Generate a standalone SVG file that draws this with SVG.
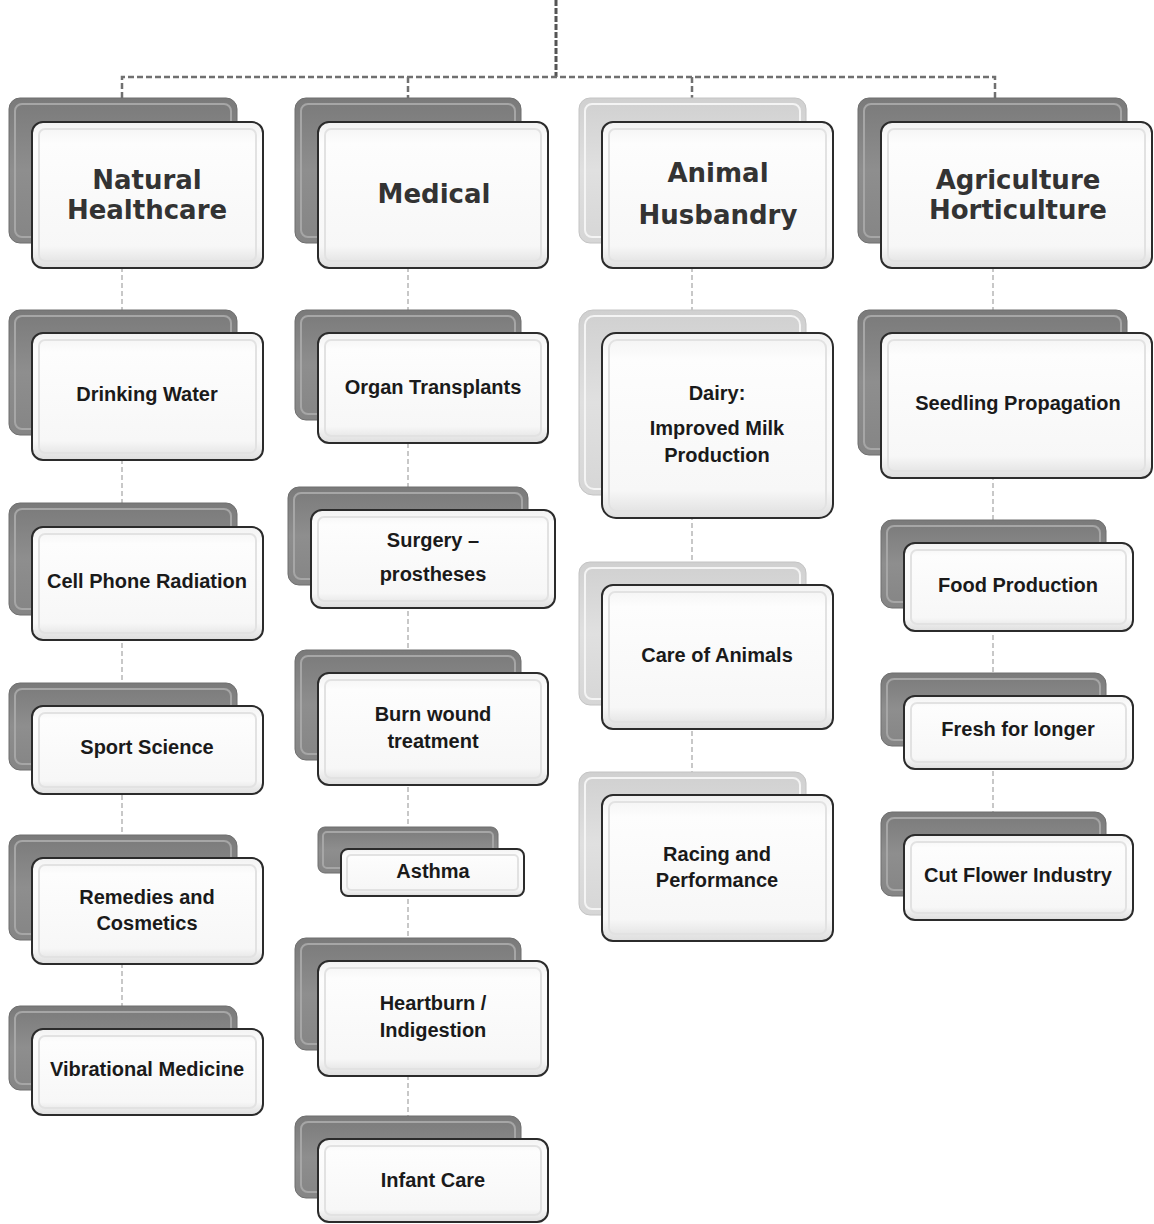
<svg xmlns="http://www.w3.org/2000/svg" width="1154" height="1224" viewBox="0 0 1154 1224">
<defs>
<linearGradient id="gBack" x1="0" y1="0" x2="0" y2="1">
<stop offset="0" stop-color="#7a7a7a"/>
<stop offset="0.5" stop-color="#8e8e8e"/>
<stop offset="1" stop-color="#858585"/>
</linearGradient>
<linearGradient id="gBackL" x1="0" y1="0" x2="0" y2="1">
<stop offset="0" stop-color="#d0d0d0"/>
<stop offset="0.5" stop-color="#e0e0e0"/>
<stop offset="1" stop-color="#d6d6d6"/>
</linearGradient>
<linearGradient id="gFront" x1="0" y1="0" x2="0" y2="1">
<stop offset="0" stop-color="#f2f2f2"/>
<stop offset="0.15" stop-color="#fdfdfd"/>
<stop offset="0.85" stop-color="#f7f7f7"/>
<stop offset="1" stop-color="#dedede"/>
</linearGradient>
<style>
.back{fill:url(#gBack);stroke:#6e6e6e;stroke-width:1}
.backL{fill:url(#gBackL);stroke:#c4c4c4;stroke-width:1}
.bin{fill:none;stroke:#a6a6a6;stroke-width:2}
.binL{fill:none;stroke:#f4f4f4;stroke-width:2}
.front{fill:url(#gFront);stroke:#2b2b2b;stroke-width:2}
.fin{fill:none;stroke:#e2e2e2;stroke-width:2}
.hd{font-family:"DejaVu Sans",Verdana,sans-serif;font-weight:bold;font-size:26px;fill:#333;text-anchor:middle}
.tx{font-family:"Liberation Sans",Arial,sans-serif;font-weight:bold;font-size:20px;fill:#1a1a1a;text-anchor:middle}
.stem{fill:none;stroke:#555;stroke-width:3;stroke-dasharray:6 2}
.main{fill:none;stroke:#707070;stroke-width:2.5;stroke-dasharray:6 3}
.col{fill:none;stroke:#c8c8c8;stroke-width:2;stroke-dasharray:5 3}
</style>
</defs>
<rect width="1154" height="1224" fill="#ffffff"/>
<g id="connectors">
<path class="stem" d="M556 0V77"/>
<path class="main" d="M122 98V77H995V98"/>
<path class="main" d="M408 77V98M692 77V98"/>
<path class="col" d="M122 243V1029"/>
<path class="col" d="M408 243V1139"/>
<path class="col" d="M692 243V795"/>
<path class="col" d="M993 243V835"/>
</g>
<g id="n-natural">
<rect class="back" x="9" y="98" width="228" height="145" rx="11"/><rect class="bin" x="15" y="104" width="216" height="133" rx="7"/>
<rect class="front" x="32" y="122" width="231" height="146" rx="11"/><rect class="fin" x="39" y="129" width="217" height="132" rx="6"/>
<text class="hd" x="147" y="189">Natural</text><text class="hd" x="147" y="219">Healthcare</text>
</g>
<g id="n-drinking">
<rect class="back" x="9" y="310" width="228" height="125" rx="11"/><rect class="bin" x="15" y="316" width="216" height="113" rx="7"/>
<rect class="front" x="32" y="333" width="231" height="127" rx="11"/><rect class="fin" x="39" y="340" width="217" height="113" rx="6"/>
<text class="tx" x="147" y="401">Drinking Water</text>
</g>
<g id="n-cell">
<rect class="back" x="9" y="503" width="228" height="112" rx="11"/><rect class="bin" x="15" y="509" width="216" height="100" rx="7"/>
<rect class="front" x="32" y="527" width="231" height="113" rx="11"/><rect class="fin" x="39" y="534" width="217" height="99" rx="6"/>
<text class="tx" x="147" y="588">Cell Phone Radiation</text>
</g>
<g id="n-sport">
<rect class="back" x="9" y="683" width="228" height="87" rx="11"/><rect class="bin" x="15" y="689" width="216" height="75" rx="7"/>
<rect class="front" x="32" y="706" width="231" height="88" rx="11"/><rect class="fin" x="39" y="713" width="217" height="74" rx="6"/>
<text class="tx" x="147" y="754">Sport Science</text>
</g>
<g id="n-remedies">
<rect class="back" x="9" y="835" width="228" height="105" rx="11"/><rect class="bin" x="15" y="841" width="216" height="93" rx="7"/>
<rect class="front" x="32" y="858" width="231" height="106" rx="11"/><rect class="fin" x="39" y="865" width="217" height="92" rx="6"/>
<text class="tx" x="147" y="904">Remedies and</text><text class="tx" x="147" y="930">Cosmetics</text>
</g>
<g id="n-vibrational">
<rect class="back" x="9" y="1006" width="228" height="84" rx="11"/><rect class="bin" x="15" y="1012" width="216" height="72" rx="7"/>
<rect class="front" x="32" y="1029" width="231" height="86" rx="11"/><rect class="fin" x="39" y="1036" width="217" height="72" rx="6"/>
<text class="tx" x="147" y="1076">Vibrational Medicine</text>
</g>
<g id="n-medical">
<rect class="back" x="295" y="98" width="226" height="145" rx="11"/><rect class="bin" x="301" y="104" width="214" height="133" rx="7"/>
<rect class="front" x="318" y="122" width="230" height="146" rx="11"/><rect class="fin" x="325" y="129" width="216" height="132" rx="6"/>
<text class="hd" x="434" y="203">Medical</text>
</g>
<g id="n-organ">
<rect class="back" x="295" y="310" width="226" height="110" rx="11"/><rect class="bin" x="301" y="316" width="214" height="98" rx="7"/>
<rect class="front" x="318" y="333" width="230" height="110" rx="11"/><rect class="fin" x="325" y="340" width="216" height="96" rx="6"/>
<text class="tx" x="433" y="394">Organ Transplants</text>
</g>
<g id="n-surgery">
<rect class="back" x="288" y="487" width="240" height="98" rx="11"/><rect class="bin" x="294" y="493" width="228" height="86" rx="7"/>
<rect class="front" x="311" y="510" width="244" height="98" rx="11"/><rect class="fin" x="318" y="517" width="230" height="84" rx="6"/>
<text class="tx" x="433" y="547">Surgery –</text><text class="tx" x="433" y="581">prostheses</text>
</g>
<g id="n-burn">
<rect class="back" x="295" y="650" width="226" height="110" rx="11"/><rect class="bin" x="301" y="656" width="214" height="98" rx="7"/>
<rect class="front" x="318" y="673" width="230" height="112" rx="11"/><rect class="fin" x="325" y="680" width="216" height="98" rx="6"/>
<text class="tx" x="433" y="721">Burn wound</text><text class="tx" x="433" y="748">treatment</text>
</g>
<g id="n-asthma">
<rect class="back" x="318" y="827" width="180" height="46" rx="7"/><rect class="bin" x="323" y="832" width="170" height="36" rx="4"/>
<rect class="front" x="341" y="849" width="183" height="47" rx="7"/><rect class="fin" x="347" y="855" width="171" height="35" rx="4"/>
<text class="tx" x="433" y="878">Asthma</text>
</g>
<g id="n-heartburn">
<rect class="back" x="295" y="938" width="226" height="112" rx="11"/><rect class="bin" x="301" y="944" width="214" height="100" rx="7"/>
<rect class="front" x="318" y="961" width="230" height="115" rx="11"/><rect class="fin" x="325" y="968" width="216" height="101" rx="6"/>
<text class="tx" x="433" y="1010">Heartburn /</text><text class="tx" x="433" y="1037">Indigestion</text>
</g>
<g id="n-infant">
<rect class="back" x="295" y="1116" width="226" height="82" rx="11"/><rect class="bin" x="301" y="1122" width="214" height="70" rx="7"/>
<rect class="front" x="318" y="1139" width="230" height="83" rx="11"/><rect class="fin" x="325" y="1146" width="216" height="69" rx="6"/>
<text class="tx" x="433" y="1187">Infant Care</text>
</g>
<g id="n-animal">
<rect class="backL" x="579" y="98" width="227" height="145" rx="11"/><rect class="binL" x="585" y="104" width="215" height="133" rx="7"/>
<rect class="front" x="602" y="122" width="231" height="146" rx="11"/><rect class="fin" x="609" y="129" width="217" height="132" rx="6"/>
<text class="hd" x="718" y="182">Animal</text><text class="hd" x="718" y="224">Husbandry</text>
</g>
<g id="n-dairy">
<rect class="backL" x="579" y="310" width="227" height="185" rx="14"/><rect class="binL" x="585" y="316" width="215" height="173" rx="9"/>
<rect class="front" x="602" y="333" width="231" height="185" rx="14"/><rect class="fin" x="609" y="340" width="217" height="171" rx="8"/>
<text class="tx" x="717" y="400">Dairy:</text><text class="tx" x="717" y="435">Improved Milk</text><text class="tx" x="717" y="462">Production</text>
</g>
<g id="n-care">
<rect class="backL" x="579" y="562" width="227" height="143" rx="11"/><rect class="binL" x="585" y="568" width="215" height="131" rx="7"/>
<rect class="front" x="602" y="585" width="231" height="144" rx="11"/><rect class="fin" x="609" y="592" width="217" height="130" rx="6"/>
<text class="tx" x="717" y="662">Care of Animals</text>
</g>
<g id="n-racing">
<rect class="backL" x="579" y="772" width="227" height="143" rx="11"/><rect class="binL" x="585" y="778" width="215" height="131" rx="7"/>
<rect class="front" x="602" y="795" width="231" height="146" rx="11"/><rect class="fin" x="609" y="802" width="217" height="132" rx="6"/>
<text class="tx" x="717" y="861">Racing and</text><text class="tx" x="717" y="887">Performance</text>
</g>
<g id="n-agriculture">
<rect class="back" x="858" y="98" width="269" height="145" rx="11"/><rect class="bin" x="864" y="104" width="257" height="133" rx="7"/>
<rect class="front" x="881" y="122" width="271" height="146" rx="11"/><rect class="fin" x="888" y="129" width="257" height="132" rx="6"/>
<text class="hd" x="1018" y="189">Agriculture</text><text class="hd" x="1018" y="219">Horticulture</text>
</g>
<g id="n-seedling">
<rect class="back" x="858" y="310" width="269" height="145" rx="11"/><rect class="bin" x="864" y="316" width="257" height="133" rx="7"/>
<rect class="front" x="881" y="333" width="271" height="145" rx="11"/><rect class="fin" x="888" y="340" width="257" height="131" rx="6"/>
<text class="tx" x="1018" y="410">Seedling Propagation</text>
</g>
<g id="n-food">
<rect class="back" x="881" y="520" width="225" height="88" rx="11"/><rect class="bin" x="887" y="526" width="213" height="76" rx="7"/>
<rect class="front" x="904" y="543" width="229" height="88" rx="11"/><rect class="fin" x="911" y="550" width="215" height="74" rx="6"/>
<text class="tx" x="1018" y="592">Food Production</text>
</g>
<g id="n-fresh">
<rect class="back" x="881" y="673" width="225" height="73" rx="11"/><rect class="bin" x="887" y="679" width="213" height="61" rx="7"/>
<rect class="front" x="904" y="696" width="229" height="73" rx="11"/><rect class="fin" x="911" y="703" width="215" height="59" rx="6"/>
<text class="tx" x="1018" y="736">Fresh for longer</text>
</g>
<g id="n-cutflower">
<rect class="back" x="881" y="812" width="225" height="84" rx="11"/><rect class="bin" x="887" y="818" width="213" height="72" rx="7"/>
<rect class="front" x="904" y="835" width="229" height="85" rx="11"/><rect class="fin" x="911" y="842" width="215" height="71" rx="6"/>
<text class="tx" x="1018" y="882">Cut Flower Industry</text>
</g>
</svg>
